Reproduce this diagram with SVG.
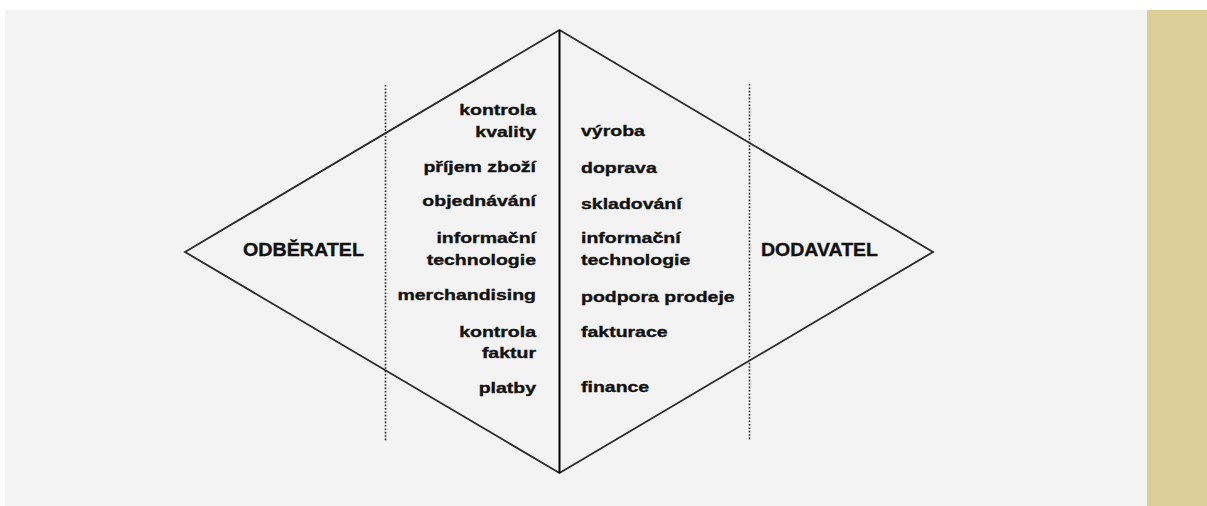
<svg xmlns="http://www.w3.org/2000/svg" width="1207" height="506" viewBox="0 0 1207 506">
<style>
.lbl{font-family:"Liberation Sans",Arial,sans-serif;font-weight:bold;font-size:15px;fill:#111;stroke:#111;stroke-width:0.35}
.big{font-family:"Liberation Sans",Arial,sans-serif;font-weight:bold;font-size:18px;fill:#111;stroke:#111;stroke-width:0.35}
.edge{fill:none;stroke:#2a2a2a;stroke-width:1.8}
.axis{fill:none;stroke:#000;stroke-width:2}
.dot{fill:none;stroke:#222;stroke-width:1.6;stroke-dasharray:1.6 1.8}
</style>
<rect x="0" y="0" width="1207" height="506" fill="#ffffff"/>
<rect x="5" y="10" width="1142" height="496" fill="#f3f3f3"/>
<rect x="1147" y="10" width="60" height="496" fill="#dbcf97"/>
<g id="connectors">
<polygon class="edge" points="185,252 559.5,30 933,252 559.5,473"/>
<line class="axis" x1="559.5" y1="30" x2="559.5" y2="473"/>
<line class="dot" x1="385.5" y1="85" x2="385.5" y2="441"/>
<line class="dot" x1="749.5" y1="84" x2="749.5" y2="441"/>
</g>
<g id="odberatel"><text class="big" x="243" y="256" textLength="121" lengthAdjust="spacingAndGlyphs">ODBĚRATEL</text></g>
<g id="dodavatel"><text class="big" x="761" y="256" textLength="117" lengthAdjust="spacingAndGlyphs">DODAVATEL</text></g>
<g id="l-kontrola-kvality" transform="translate(536 0) scale(1.3 1)"><text class="lbl" x="0" y="115" text-anchor="end">kontrola</text><text class="lbl" x="0" y="137" text-anchor="end">kvality</text></g>
<g id="l-prijem" transform="translate(536 0) scale(1.3 1)"><text class="lbl" x="0" y="172" text-anchor="end">příjem zboží</text></g>
<g id="l-objednavani" transform="translate(536 0) scale(1.3 1)"><text class="lbl" x="0" y="206" text-anchor="end">objednávání</text></g>
<g id="l-it" transform="translate(536 0) scale(1.3 1)"><text class="lbl" x="0" y="243" text-anchor="end">informační</text><text class="lbl" x="0" y="265" text-anchor="end">technologie</text></g>
<g id="l-merch" transform="translate(536 0) scale(1.3 1)"><text class="lbl" x="0" y="300" text-anchor="end">merchandising</text></g>
<g id="l-kontrola-faktur" transform="translate(536 0) scale(1.3 1)"><text class="lbl" x="0" y="337" text-anchor="end">kontrola</text><text class="lbl" x="0" y="358" text-anchor="end">faktur</text></g>
<g id="l-platby" transform="translate(536 0) scale(1.3 1)"><text class="lbl" x="0" y="393" text-anchor="end">platby</text></g>
<g id="r-vyroba" transform="translate(581 0) scale(1.3 1)"><text class="lbl" x="0" y="136">výroba</text></g>
<g id="r-doprava" transform="translate(581 0) scale(1.3 1)"><text class="lbl" x="0" y="173">doprava</text></g>
<g id="r-skladovani" transform="translate(581 0) scale(1.3 1)"><text class="lbl" x="0" y="209">skladování</text></g>
<g id="r-it" transform="translate(581 0) scale(1.3 1)"><text class="lbl" x="0" y="243">informační</text><text class="lbl" x="0" y="265">technologie</text></g>
<g id="r-podpora" transform="translate(581 0) scale(1.3 1)"><text class="lbl" x="0" y="302">podpora prodeje</text></g>
<g id="r-fakturace" transform="translate(581 0) scale(1.3 1)"><text class="lbl" x="0" y="337">fakturace</text></g>
<g id="r-finance" transform="translate(581 0) scale(1.3 1)"><text class="lbl" x="0" y="392">finance</text></g>
</svg>
